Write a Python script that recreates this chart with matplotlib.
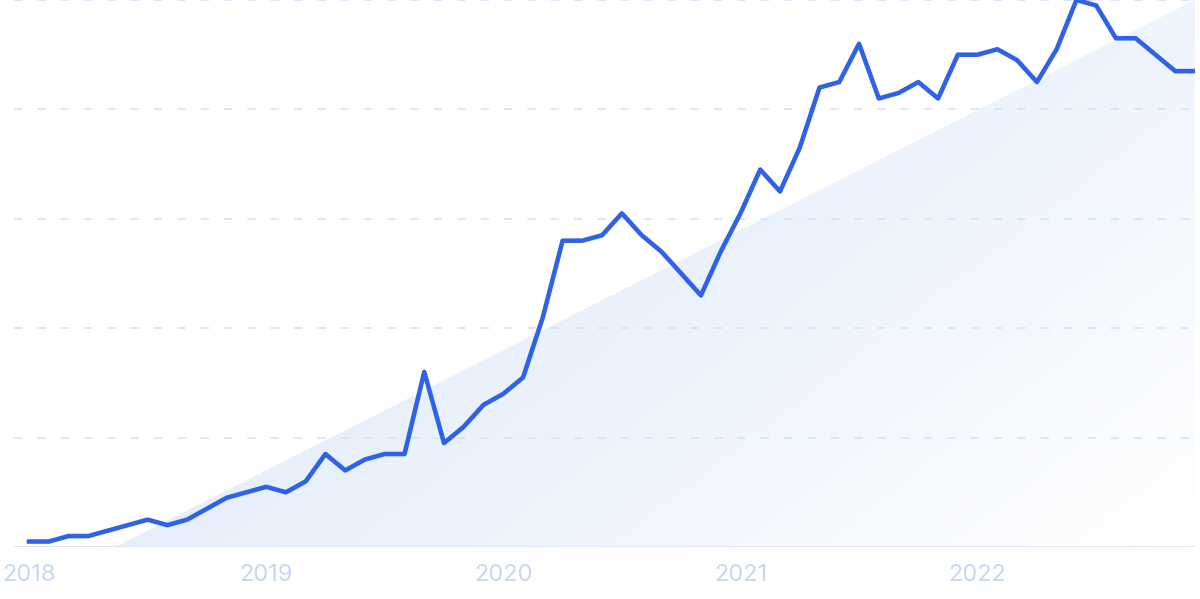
import matplotlib
matplotlib.use("Agg")
import matplotlib.pyplot as plt
import numpy as np
from matplotlib.patches import Polygon

plt.rcParams['font.family'] = ['Inter', 'DejaVu Sans']

# monthly interest, Jan 2018 .. Dec 2022 (peak = 100)
values = [1, 1, 2, 2, 3, 4, 5, 4, 5, 7, 9, 10,
          11, 10, 12, 17, 14, 16, 17, 17, 32, 19, 22, 26,
          28, 31, 42, 56, 56, 57, 61, 57, 54, 50, 46, 54,
          61, 69, 65, 73, 84, 85, 92, 82, 83, 85, 82, 90,
          90, 91, 89, 85, 91, 100, 99, 93, 93, 90, 87, 87]
years = ['2018', '2019', '2020', '2021', '2022']
year_pos = [0, 12, 24, 36, 48]
yticks = [0, 20, 40, 60, 80, 100]

x = np.arange(len(values))
LINE = '#2f62e6'
GRID = '#d2e5fb'
TICK = '#c8d6f4'

fig = plt.figure(figsize=(12, 5.99), dpi=100)
ax = fig.add_axes([14/1200, 52/599, 1181/1200, 547/599])
xmin, xmax = -0.76, 59
ax.set_xlim(xmin, xmax)
ax.set_ylim(0, 100)

# gradient triangle in the background
nx, ny = 300, 150
u = np.linspace(0, 1, nx)[None, :]
v = np.linspace(0, 1, ny)[:, None]
w = np.clip(u - 0.6*v, 0, 1)
blue = np.array([0xe3, 0xed, 0xfb]) / 255
img = blue[None, None, :]*(1 - w[..., None]) + np.ones(3)[None, None, :]*w[..., None]
im = ax.imshow(img, extent=[xmin, xmax, 0, 100], origin='lower', aspect='auto', zorder=0)
tri = Polygon([(4.35, 0), (xmax, 100), (xmax, 0)], closed=True, transform=ax.transData,
              facecolor='none', edgecolor='none')
ax.add_patch(tri)
im.set_clip_path(tri)

for yv in yticks[1:]:
    ax.axhline(yv, xmin=0, xmax=0.996, color=GRID, lw=1.2, dashes=(5, 9), zorder=1)
ax.axhline(0, color='#dfe7f6', lw=1.5, zorder=1)

ax.plot(x, values, color=LINE, lw=3.3, solid_joinstyle='round', zorder=3)

for s in ax.spines.values():
    s.set_visible(False)
ax.set_yticks([])
ax.set_xticks(year_pos)
ax.set_xticklabels(years, fontsize=17, color=TICK)
ax.tick_params(axis='x', length=0, pad=12)

fig.savefig('out.png', dpi=100)
